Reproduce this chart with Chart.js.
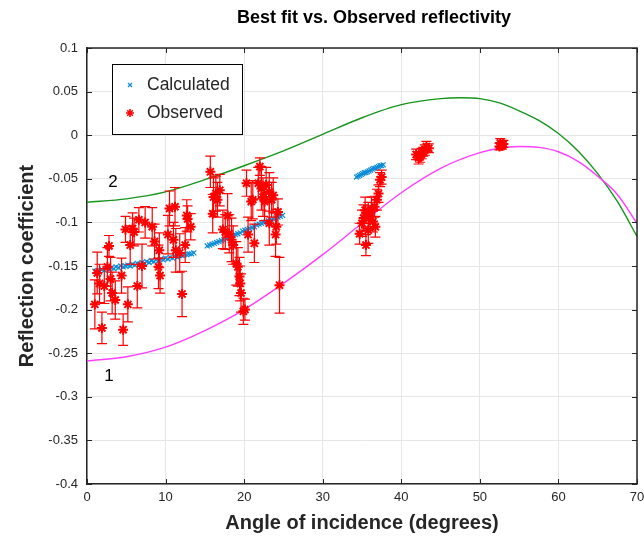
<!DOCTYPE html>
<html>
<head>
<meta charset="utf-8">
<title>Best fit vs. Observed reflectivity</title>
<script src="https://cdn.jsdelivr.net/npm/chart.js@4.4.0/dist/chart.umd.min.js"></script>
<style>
  html, body { margin: 0; padding: 0; background: #fff; }
  canvas { display: block; }
</style>
</head>
<body>
<canvas id="reflChart" width="644" height="536"></canvas>
<script>
// axis ticks
const xTicks = [0, 10, 20, 30, 40, 50, 60, 70];
const yTicks = [-0.4, -0.35, -0.3, -0.25, -0.2, -0.15, -0.1, -0.05, 0, 0.05, 0.1];

// best-fit curve 2 (green)
const fit2X = [0, 5, 10, 15, 20, 25, 30, 35, 40, 45, 47.5, 50, 52.5, 55, 57.5, 60, 62.5, 65, 67.5, 70];
const fit2Y = [-0.077, -0.073, -0.065, -0.051, -0.035, -0.018, 0.001, 0.020, 0.035, 0.042, 0.043, 0.042, 0.037, 0.028, 0.017, 0.002, -0.018, -0.044, -0.076, -0.116];

// best-fit curve 1 (magenta)
const fit1X = [0, 5, 10, 15, 20, 25, 30, 35, 40, 45, 50, 52.5, 55, 57.5, 60, 62.5, 65, 67.5, 70];
const fit1Y = [-0.259, -0.254, -0.243, -0.224, -0.200, -0.170, -0.137, -0.101, -0.066, -0.038, -0.020, -0.015, -0.013, -0.014, -0.019, -0.030, -0.047, -0.068, -0.101];

// calculated reflectivity (blue x)
const calcX = [
  1.0, 1.3, 1.6, 1.9, 2.2, 2.5, 2.8, 3.1, 3.4, 3.7, 4.0, 4.3, 4.6, 4.9, 5.2, 5.5, 5.8, 6.1, 6.4, 6.7, 7.0, 7.3,
  7.6, 7.9, 8.2, 8.5, 8.8, 9.1, 9.4, 9.7, 10.0, 10.3, 10.6, 10.9, 11.2, 11.5, 11.8, 12.1, 12.4, 12.7, 13.0, 13.3, 13.6,
  15.3, 15.6, 15.9, 16.2, 16.5, 16.8, 17.1, 17.4, 17.7, 18.0, 18.3, 18.6, 18.9, 19.2, 19.5, 19.8, 20.1, 20.4,
  20.7, 21.0, 21.3, 21.6, 21.9, 22.2, 22.5, 22.8, 23.1, 23.4, 23.7, 24.0, 24.3, 24.6, 24.9,
  34.3, 34.5, 34.7, 34.9, 35.1, 35.3, 35.5, 35.7, 35.9, 36.1, 36.3, 36.5, 36.7, 36.9, 37.1, 37.3, 37.5, 37.7
];
const calcY = [
  -0.156, -0.155, -0.157, -0.154, -0.155, -0.153, -0.154, -0.152, -0.153, -0.151, -0.152, -0.150, -0.151, -0.150, -0.149, -0.150, -0.148, -0.149, -0.147, -0.148, -0.146, -0.147,
  -0.145, -0.146, -0.144, -0.145, -0.143, -0.144, -0.142, -0.143, -0.141, -0.142, -0.140, -0.141, -0.139, -0.140, -0.138, -0.138, -0.137, -0.137, -0.136, -0.136, -0.135,
  -0.127, -0.126, -0.125, -0.124, -0.123, -0.122, -0.121, -0.120, -0.119, -0.117, -0.116, -0.115, -0.114, -0.113, -0.112, -0.110, -0.109, -0.108,
  -0.107, -0.106, -0.105, -0.103, -0.102, -0.101, -0.100, -0.099, -0.098, -0.097, -0.096, -0.095, -0.094, -0.093, -0.092,
  -0.048, -0.047, -0.046, -0.045, -0.044, -0.043, -0.043, -0.042, -0.041, -0.040, -0.039, -0.038, -0.038, -0.037, -0.036, -0.035, -0.035, -0.034
];

// observed reflectivity (red *) and its error
const obsX = [
  1.0, 1.3, 1.6, 1.9, 2.2, 2.6, 2.8, 3.0, 3.2, 3.6, 4.4, 4.6, 4.9, 5.2, 5.5, 5.8, 6.0, 6.4, 6.6, 7.0, 7.4,
  8.3, 8.6, 9.1, 9.2, 9.3, 10.3, 10.5, 11.0, 11.2, 11.3, 11.8, 12.1, 12.5, 12.7, 12.8, 13.2,
  15.7, 16.0, 16.1, 16.4, 16.6, 16.9, 17.3, 17.6, 17.9, 18.1, 18.4, 18.6, 19.0, 19.2, 19.4, 19.5, 19.6, 19.9,
  20.1, 20.3, 20.5, 20.9, 21.1, 21.3, 21.8, 22.0, 22.2, 22.4, 22.6, 22.8, 23.2, 23.2, 23.5, 23.7, 24.0, 24.1, 24.3, 24.5,
  34.7, 35.0, 35.2, 35.4, 35.5, 35.8, 35.8, 36.0, 36.2, 36.4, 36.6, 36.7, 36.9, 37.1, 37.3, 37.5,
  41.9, 42.2, 42.4, 42.6, 42.8, 43.0, 43.2, 43.5,
  52.5, 52.6, 52.8, 53.0
];
const obsY = [
  -0.194, -0.158, -0.170, -0.221, -0.173, -0.151, -0.127, -0.165, -0.181, -0.189, -0.161, -0.223, -0.108, -0.194, -0.126, -0.107, -0.111, -0.173, -0.097, -0.150, -0.100,
  -0.105, -0.122, -0.151, -0.132, -0.161, -0.114, -0.084, -0.120, -0.082, -0.132, -0.135, -0.182, -0.126, -0.092, -0.096, -0.105,
  -0.042, -0.090, -0.071, -0.067, -0.074, -0.063, -0.108, -0.111, -0.092, -0.113, -0.120, -0.126, -0.147, -0.151, -0.162, -0.170, -0.181, -0.202,
  -0.200, -0.055, -0.114, -0.076, -0.074, -0.124, -0.055, -0.036, -0.061, -0.071, -0.076, -0.057, -0.065, -0.101, -0.074, -0.069, -0.114, -0.105, -0.088, -0.172,
  -0.113, -0.101, -0.095, -0.086, -0.126, -0.092, -0.109, -0.093, -0.086, -0.099, -0.082, -0.105, -0.074, -0.067, -0.051, -0.048,
  -0.022, -0.026, -0.025, -0.021, -0.019, -0.017, -0.013, -0.015,
  -0.013, -0.009, -0.012, -0.010
];
const obsErr = [
  0.028, 0.024, 0.022, 0.018, 0.020, 0.022, 0.012, 0.025, 0.024, 0.022, 0.020, 0.018, 0.015, 0.020, 0.022, 0.018, 0.016, 0.025, 0.014, 0.025, 0.018,
  0.022, 0.020, 0.025, 0.020, 0.020, 0.022, 0.020, 0.020, 0.022, 0.025, 0.022, 0.026, 0.020, 0.018, 0.015, 0.015,
  0.018, 0.022, 0.022, 0.020, 0.020, 0.018, 0.022, 0.020, 0.025, 0.022, 0.025, 0.022, 0.025, 0.022, 0.022, 0.020, 0.022, 0.015,
  0.012, 0.015, 0.020, 0.022, 0.022, 0.022, 0.018, 0.010, 0.025, 0.022, 0.022, 0.020, 0.022, 0.025, 0.020, 0.020, 0.025, 0.020, 0.015, 0.032,
  0.012, 0.015, 0.015, 0.015, 0.012, 0.015, 0.015, 0.012, 0.015, 0.012, 0.012, 0.012, 0.012, 0.010, 0.008, 0.008,
  0.006, 0.007, 0.006, 0.006, 0.005, 0.006, 0.006, 0.005,
  0.004, 0.005, 0.004, 0.004
];

const FONT = "'Liberation Sans', Arial, Helvetica, sans-serif";
const INK = '#262626';
const toXY = (xs, ys) => xs.map((x, i) => ({ x: x, y: ys[i] }));

// vertical error bars, drawn just before the observed stars
const errorBars = {
  id: 'errorBars',
  beforeDatasetDraw(chart, args) {
    if (args.index !== 0) return;
    const { ctx, scales: { x, y } } = chart;
    ctx.save();
    ctx.strokeStyle = '#ff0000';
    ctx.lineWidth = 1.2;
    obsX.forEach((v, i) => {
      const px = x.getPixelForValue(v);
      const top = y.getPixelForValue(obsY[i] + obsErr[i]);
      const bot = y.getPixelForValue(obsY[i] - obsErr[i]);
      ctx.beginPath();
      ctx.moveTo(px, top); ctx.lineTo(px, bot);
      ctx.moveTo(px - 5, top); ctx.lineTo(px + 5, top);
      ctx.moveTo(px - 5, bot); ctx.lineTo(px + 5, bot);
      ctx.stroke();
    });
    ctx.restore();
  }
};

// box, inward ticks, title, curve labels and legend
const decorations = {
  id: 'decorations',
  afterDraw(chart) {
    const { ctx, chartArea: a, scales: { x, y } } = chart;
    ctx.save();
    ctx.strokeStyle = INK;
    ctx.lineWidth = 1;
    ctx.beginPath();
    xTicks.forEach(t => {
      const px = Math.round(x.getPixelForValue(t)) + 0.5;
      ctx.moveTo(px, a.bottom); ctx.lineTo(px, a.bottom - 5);
      ctx.moveTo(px, a.top); ctx.lineTo(px, a.top + 5);
    });
    yTicks.forEach(t => {
      const py = Math.round(y.getPixelForValue(t)) + 0.5;
      ctx.moveTo(a.left, py); ctx.lineTo(a.left + 5, py);
      ctx.moveTo(a.right, py); ctx.lineTo(a.right - 5, py);
    });
    ctx.stroke();
    ctx.lineWidth = 1.5;
    ctx.beginPath();
    ctx.moveTo(a.left, a.top); ctx.lineTo(a.right, a.top); ctx.lineTo(a.right, a.bottom);
    ctx.stroke();

    ctx.fillStyle = '#000';
    ctx.textAlign = 'center';
    ctx.textBaseline = 'middle';
    ctx.font = 'bold 18px ' + FONT;
    ctx.fillText('Best fit vs. Observed reflectivity', 374, 18);

    ctx.font = '17px ' + FONT;
    ctx.fillText('2', x.getPixelForValue(3.3), y.getPixelForValue(-0.054));
    ctx.fillText('1', x.getPixelForValue(2.8), y.getPixelForValue(-0.277));

    // legend
    ctx.fillStyle = '#fff';
    ctx.fillRect(112, 64, 130, 70);
    ctx.strokeStyle = '#000';
    ctx.lineWidth = 1;
    ctx.strokeRect(112.5, 64.5, 130, 70);
    ctx.strokeStyle = '#0a8bd6';
    ctx.lineWidth = 1.2;
    ctx.beginPath();
    ctx.moveTo(128, 83); ctx.lineTo(132, 87);
    ctx.moveTo(132, 83); ctx.lineTo(128, 87);
    ctx.stroke();
    ctx.strokeStyle = '#ff0000';
    ctx.lineWidth = 1.6;
    ctx.beginPath();
    ctx.moveTo(130, 109); ctx.lineTo(130, 117);
    ctx.moveTo(126, 113); ctx.lineTo(134, 113);
    ctx.moveTo(127.2, 110.2); ctx.lineTo(132.8, 115.8);
    ctx.moveTo(132.8, 110.2); ctx.lineTo(127.2, 115.8);
    ctx.stroke();
    ctx.fillStyle = INK;
    ctx.textAlign = 'left';
    ctx.font = '17.5px ' + FONT;
    ctx.fillText('Calculated', 147, 85);
    ctx.fillText('Observed', 147, 113);
    ctx.restore();
  }
};

const ctx = document.getElementById('reflChart').getContext('2d');
new Chart(ctx, {
  type: 'scatter',
  data: {
    datasets: [
      {
        label: 'Observed',
        data: toXY(obsX, obsY),
        pointStyle: 'star',
        pointRadius: 5,
        pointBorderWidth: 2,
        borderColor: '#ff0000',
        backgroundColor: '#ff0000'
      },
      {
        label: 'Calculated',
        data: toXY(calcX, calcY),
        pointStyle: 'crossRot',
        pointRadius: 3.5,
        pointBorderWidth: 1.2,
        borderColor: '#0a8bd6',
        backgroundColor: '#0a8bd6'
      },
      {
        label: '1',
        data: toXY(fit1X, fit1Y),
        showLine: true,
        pointRadius: 0,
        borderColor: '#ff3dff',
        borderWidth: 1.4,
        cubicInterpolationMode: 'monotone'
      },
      {
        label: '2',
        data: toXY(fit2X, fit2Y),
        showLine: true,
        pointRadius: 0,
        borderColor: '#16951c',
        borderWidth: 1.4,
        cubicInterpolationMode: 'monotone'
      }
    ]
  },
  options: {
    responsive: false,
    animation: false,
    layout: { padding: { top: 48, right: 7, bottom: 0, left: 0 } },
    plugins: {
      legend: { display: false },
      tooltip: { enabled: false }
    },
    scales: {
      x: {
        type: 'linear',
        min: 0,
        max: 70,
        afterBuildTicks: s => { s.ticks = xTicks.map(v => ({ value: v })); },
        afterFit: s => { s.height = 52; s.paddingLeft = 0; s.paddingRight = 0; },
        grid: { color: '#e6e6e6', drawTicks: false },
        border: { color: INK, width: 1.5 },
        ticks: {
          padding: 6,
          color: INK,
          font: { family: FONT, size: 13 },
          maxRotation: 0,
          callback: v => String(v)
        },
        title: {
          display: true,
          text: 'Angle of incidence (degrees)',
          color: INK,
          font: { family: FONT, size: 20, weight: 'bold' },
          padding: { top: 0, bottom: 1 }
        }
      },
      y: {
        type: 'linear',
        min: -0.4,
        max: 0.1,
        afterBuildTicks: s => { s.ticks = yTicks.map(v => ({ value: v })); },
        afterFit: s => { s.width = 87; },
        grid: { color: '#e6e6e6', drawTicks: false },
        border: { color: INK, width: 1.5 },
        ticks: {
          padding: 9,
          color: INK,
          font: { family: FONT, size: 13 },
          callback: v => String(parseFloat(v.toFixed(2)))
        },
        title: {
          display: true,
          text: 'Reflection coefficient',
          color: INK,
          font: { family: FONT, size: 20, weight: 'bold' },
          padding: { top: 15, bottom: 0 }
        }
      }
    }
  },
  plugins: [errorBars, decorations]
});
</script>
</body>
</html>
